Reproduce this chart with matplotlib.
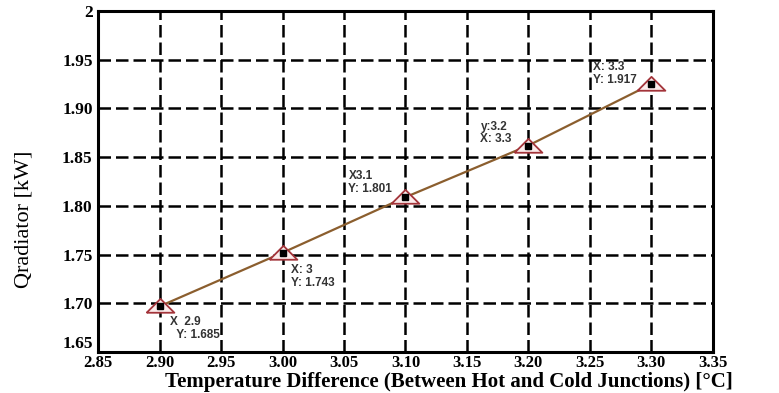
import matplotlib.pyplot as plt

# data
temp_diff = [2.9, 3.0, 3.1, 3.2, 3.3]
q_radiator = [1.697, 1.752, 1.809, 1.862, 1.925]
point_labels = ["X  2.9\n  Y: 1.685", "X: 3\nY: 1.743", "X3.1\nY: 1.801",
                "y:3.2\nX: 3.3", "X: 3.3\nY: 1.917"]
label_offsets = [(10, -10), (8, -11), (-57, 27), (-48, 25), (-58, 23)]  # pixels

x_ticks = [2.85, 2.90, 2.95, 3.00, 3.05, 3.10, 3.15, 3.20, 3.25, 3.30, 3.35]
y_ticks = [1.65, 1.70, 1.75, 1.80, 1.85, 1.90, 1.95, 2.00]
y_tick_labels = ["1.65", "1.70", "1.75", "1.80", "1.85", "1.90", "1.95", "2"]

serif = ["Liberation Serif", "DejaVu Serif"]

fig = plt.figure(figsize=(7.79, 3.93), dpi=100)
ax = fig.add_axes([0.126, 0.104, 0.789, 0.868])

# wide triangle marker
tri = [(-1.0, -0.45), (1.0, -0.45), (0.0, 0.55), (-1.0, -0.45)]

ax.plot(temp_diff, q_radiator, color="#8b5e2e", linewidth=1.6, zorder=3)
ax.plot(temp_diff, q_radiator, linestyle="none", marker=tri, markersize=20,
        markerfacecolor="#fcecec", markeredgecolor="#a3343a",
        markeredgewidth=1.3, zorder=4)
ax.plot(temp_diff, q_radiator, linestyle="none", marker="s", markersize=4,
        color="black", zorder=5)

for x, y, lab, off in zip(temp_diff, q_radiator, point_labels, label_offsets):
    ax.annotate(lab, (x, y), xytext=off, textcoords="offset pixels",
                ha="left", va="top", fontsize=8.5, fontweight="bold",
                family="Liberation Sans", color="#333333", linespacing=1.1)

ax.set_xlim(2.85, 3.35)
ax.set_ylim(1.65, 2.0)
ax.set_xticks(x_ticks)
ax.set_xticklabels([f"{t:.2f}" for t in x_ticks], family=serif,
                   fontweight="bold", fontsize=12)
ax.set_yticks(y_ticks)
ax.set_yticklabels(y_tick_labels, family=serif, fontweight="bold", fontsize=12.5)
ax.get_yticklabels()[0].set_va("bottom")  # 1.65 sits just above the corner
ax.tick_params(length=0)
ax.tick_params(axis="x", pad=2)
ax.tick_params(axis="y", pad=4)

ax.grid(True, color="black", linestyle=(0, (5, 2)), linewidth=1.8)
for s in ax.spines.values():
    s.set_linewidth(2.2)
    s.set_color("black")

ax.set_xlabel("Temperature Difference (Between Hot and Cold Junctions) [°C]",
              family=serif, fontweight="bold", fontsize=15)
ax.xaxis.set_label_coords(0.57, -0.057)
ax.set_ylabel("Qradiator [kW]", family=serif, fontsize=16)
ax.yaxis.set_label_coords(-0.105, 0.39)

fig.savefig("out.png", dpi=100)
